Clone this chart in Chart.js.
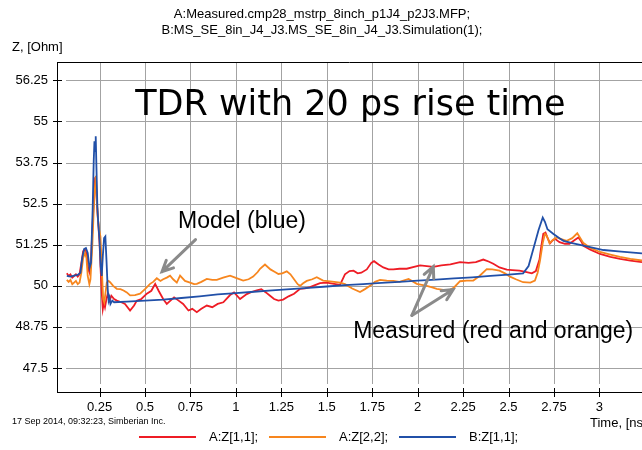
<!DOCTYPE html>
<html lang="en">
<head>
    <meta charset="UTF-8">
    <title>TDR with 20 ps rise time</title>
    <script src="https://cdn.jsdelivr.net/npm/chart.js"></script>
    <style>
        body {
            margin: 0;
            background-color: #ffffff;
            overflow: hidden;
        }
        .chart-box {
            width: 642px;
            height: 450px;
        }
    </style>
</head>
<body>
    <div class="chart-box">
        <canvas id="tdrChart" width="642" height="450"></canvas>
    </div>

    <script>
        // Axis ticks
        const xTicks = [0.25, 0.5, 0.75, 1, 1.25, 1.5, 1.75, 2, 2.25, 2.5, 2.75, 3];
        const yTicks = [47.5, 48.75, 50, 51.25, 52.5, 53.75, 55, 56.25];

        // A:Z[1,1] measured (red)
        const tRed = [0.07, 0.08, 0.09, 0.1, 0.11, 0.12, 0.13, 0.14, 0.15, 0.16, 0.17, 0.18, 0.188, 0.195, 0.203, 0.212, 0.22, 0.226, 0.232, 0.238,
            0.243, 0.25, 0.256, 0.262, 0.268, 0.274, 0.28, 0.288, 0.295, 0.305, 0.315, 0.33, 0.345, 0.37, 0.39, 0.418, 0.44, 0.455, 0.48, 0.51,
            0.535, 0.556, 0.575, 0.6, 0.62, 0.64, 0.66, 0.685, 0.71, 0.739, 0.76, 0.785, 0.81, 0.84, 0.87, 0.9, 0.931, 0.968, 0.99, 1.023,
            1.06, 1.09, 1.115, 1.14, 1.165, 1.188, 1.21, 1.234, 1.26, 1.29, 1.32, 1.353, 1.38, 1.408, 1.435, 1.463, 1.5, 1.54, 1.573, 1.6,
            1.625, 1.647, 1.67, 1.69, 1.72, 1.745, 1.76, 1.785, 1.811, 1.84, 1.866, 1.9, 1.94, 1.98, 2.013, 2.05, 2.086, 2.13, 2.18, 2.233,
            2.28, 2.32, 2.361, 2.39, 2.416, 2.45, 2.49, 2.52, 2.56, 2.6, 2.628, 2.65, 2.67, 2.68, 2.691, 2.703, 2.715, 2.728, 2.742, 2.755,
            2.78, 2.81, 2.835, 2.86, 2.884, 2.9, 2.912, 2.95, 3.003, 3.06, 3.113, 3.17, 3.234];
        const zRed = [50.38, 50.3, 50.35, 50.25, 50.3, 50.35, 50.28, 50.35, 50.7, 51.05, 51.1, 50.95, 50.5, 50.4, 50.8, 51.9, 52.8, 53.3, 52.9, 52.3,
            51.9, 51.3, 50.5, 49.8, 49.3, 49.5, 49.35, 49.6, 49.75, 49.55, 49.7, 49.6, 49.55, 49.5, 49.45, 49.25, 49.4, 49.55, 49.6, 49.76,
            49.85, 50.06, 49.85, 49.6, 49.45, 49.55, 49.65, 49.55, 49.45, 49.25, 49.3, 49.2, 49.3, 49.4, 49.35, 49.45, 49.5, 49.72, 49.8, 49.6,
            49.75, 49.82, 49.86, 49.9, 49.8, 49.7, 49.6, 49.55, 49.58, 49.68, 49.76, 49.91, 49.92, 49.96, 50.02, 50.08, 50.1, 50.06, 50.03, 50.35,
            50.45, 50.46, 50.38, 50.4, 50.5, 50.7, 50.75, 50.65, 50.56, 50.5, 50.5, 50.52, 50.52, 50.58, 50.62, 50.6, 50.58, 50.62, 50.65, 50.72,
            50.7, 50.72, 50.8, 50.74, 50.67, 50.56, 50.49, 50.48, 50.46, 50.42, 50.38, 50.45, 50.8, 51.2, 51.58, 51.62, 51.45, 51.29, 51.38, 51.43,
            51.33, 51.28, 51.28, 51.38, 51.47, 51.35, 51.22, 51.1, 50.97, 50.88, 50.82, 50.77, 50.72];

        // A:Z[2,2] measured (orange)
        const tOrange = [0.07, 0.08, 0.09, 0.1, 0.11, 0.12, 0.13, 0.14, 0.15, 0.16, 0.17, 0.178, 0.185, 0.194, 0.2, 0.21, 0.218, 0.225, 0.23, 0.235,
            0.24, 0.248, 0.255, 0.26, 0.265, 0.27, 0.276, 0.283, 0.29, 0.3, 0.308, 0.325, 0.345, 0.365, 0.382, 0.4, 0.418, 0.445, 0.473, 0.5,
            0.528, 0.545, 0.565, 0.585, 0.6, 0.62, 0.638, 0.655, 0.675, 0.693, 0.72, 0.748, 0.77, 0.785, 0.81, 0.84, 0.87, 0.895, 0.93, 0.968,
            1.0, 1.04, 1.07, 1.095, 1.12, 1.133, 1.16, 1.19, 1.215, 1.234, 1.255, 1.28, 1.3, 1.32, 1.34, 1.353, 1.37, 1.39, 1.42, 1.445,
            1.48, 1.53, 1.573, 1.6, 1.64, 1.683, 1.71, 1.738, 1.765, 1.793, 1.83, 1.866, 1.9, 1.95, 1.995, 2.05, 2.08, 2.105, 2.14, 2.178,
            2.2, 2.233, 2.27, 2.306, 2.34, 2.38, 2.41, 2.45, 2.48, 2.508, 2.54, 2.58, 2.62, 2.645, 2.66, 2.673, 2.688, 2.7, 2.712, 2.725,
            2.745, 2.765, 2.79, 2.82, 2.85, 2.878, 2.895, 2.912, 2.95, 3.003, 3.06, 3.113, 3.17, 3.234];
        const zOrange = [50.18, 50.12, 50.18, 50.05, 50.1, 50.15, 50.05, 50.1, 50.4, 50.85, 51.0, 50.85, 50.3, 50.05, 50.2, 51.2, 52.3, 53.0, 53.35, 52.7,
            52.1, 51.7, 51.5, 50.9, 50.2, 49.6, 49.5, 49.8, 50.1, 50.15, 50.11, 50.0, 49.91, 49.9, 49.86, 49.8, 49.71, 49.72, 49.76, 49.9,
            50.06, 50.12, 50.23, 50.15, 50.2, 50.25, 50.31, 50.2, 50.1, 50.31, 50.15, 50.1, 50.05, 50.06, 50.12, 50.21, 50.18, 50.18, 50.25, 50.31,
            50.24, 50.16, 50.2, 50.28, 50.42, 50.52, 50.65, 50.5, 50.42, 50.36, 50.38, 50.44, 50.35, 50.2, 50.05, 50.0, 50.08, 50.15, 50.2, 50.26,
            50.16, 50.13, 50.1, 50.05, 49.92, 49.81, 49.9, 50.0, 50.12, 50.18, 50.16, 50.15, 50.12, 50.21, 50.06, 50.0, 49.95, 49.91, 49.88, 49.88,
            49.95, 50.14, 50.16, 50.16, 50.3, 50.51, 50.5, 50.46, 50.38, 50.28, 50.2, 50.11, 50.1, 50.16, 50.4, 50.77, 51.3, 51.58, 51.5, 51.3,
            51.4, 51.47, 51.42, 51.37, 51.45, 51.6, 51.45, 51.3, 51.15, 51.03, 50.95, 50.88, 50.82, 50.77];

        // B:Z[1,1] simulation (blue)
        const tBlue = [0.07, 0.09, 0.11, 0.13, 0.145, 0.155, 0.165, 0.175, 0.185, 0.195, 0.203, 0.212, 0.218, 0.222, 0.226, 0.229, 0.233, 0.238, 0.243, 0.25,
            0.256, 0.262, 0.268, 0.275, 0.282, 0.288, 0.295, 0.3, 0.305, 0.31, 0.32, 0.33, 0.4, 0.5, 0.6, 0.7, 0.8, 0.9, 1.0, 1.1,
            1.2, 1.3, 1.4, 1.5, 1.6, 1.7, 1.8, 1.9, 2.0, 2.1, 2.2, 2.3, 2.4, 2.5, 2.58, 2.61, 2.635, 2.665, 2.688, 2.7,
            2.714, 2.747, 2.78, 2.802, 2.85, 2.912, 3.022, 3.12, 3.234];
        const zBlue = [50.3, 50.28, 50.31, 50.33, 50.4, 50.85, 51.12, 51.15, 51.0, 50.55, 50.7, 52.3, 53.8, 54.4, 54.1, 54.55, 53.6, 52.4, 51.9, 51.4,
            50.6, 50.3, 50.9, 51.45, 51.5, 50.8, 49.9, 49.55, 49.65, 49.45, 49.55, 49.5, 49.52, 49.55, 49.58, 49.63, 49.68, 49.74, 49.78, 49.82,
            49.86, 49.9, 49.94, 49.98, 50.02, 50.05, 50.09, 50.12, 50.16, 50.19, 50.23, 50.26, 50.3, 50.34, 50.38, 50.6, 51.1, 51.7, 52.08, 51.95,
            51.72, 51.58, 51.45, 51.37, 51.3, 51.22, 51.09, 51.04, 50.99];

        const RED = '#ee1c25';
        const ORANGE = '#f7861e';
        const BLUE = '#2150a8';
        const GRID = '#a3a3a3';
        const FONT = "'Liberation Sans', Arial, sans-serif";

        function toPoints(ts, zs) {
            return ts.map((t, i) => ({ x: t, y: zs[i] }));
        }

        // Grid lines stop short of the axes, tick marks cross them
        const gridPlugin = {
            id: 'simGrid',
            beforeDatasetsDraw(chart) {
                const ctx = chart.ctx;
                const area = chart.chartArea;
                ctx.save();
                ctx.lineWidth = 1;
                chart.scales.x.ticks.forEach(tk => {
                    const x = Math.round(chart.scales.x.getPixelForValue(tk.value)) + 0.5;
                    ctx.strokeStyle = GRID;
                    ctx.beginPath();
                    ctx.moveTo(x, area.top);
                    ctx.lineTo(x, area.bottom - 8);
                    ctx.stroke();
                    ctx.strokeStyle = '#000';
                    ctx.beginPath();
                    ctx.moveTo(x, area.bottom - 4);
                    ctx.lineTo(x, area.bottom + 5);
                    ctx.stroke();
                });
                chart.scales.y.ticks.forEach(tk => {
                    const y = Math.round(chart.scales.y.getPixelForValue(tk.value)) + 0.5;
                    ctx.strokeStyle = GRID;
                    ctx.beginPath();
                    ctx.moveTo(area.left + 9, y);
                    ctx.lineTo(area.right, y);
                    ctx.stroke();
                    ctx.strokeStyle = '#000';
                    ctx.beginPath();
                    ctx.moveTo(area.left - 4, y);
                    ctx.lineTo(area.left + 5, y);
                    ctx.stroke();
                });
                ctx.restore();
            }
        };

        // Titles, legend and the notes on the plot
        const decorPlugin = {
            id: 'decor',
            afterDraw(chart) {
                const ctx = chart.ctx;
                const area = chart.chartArea;
                const xs = chart.scales.x;
                const ys = chart.scales.y;
                ctx.save();

                // top frame line
                ctx.strokeStyle = '#000';
                ctx.lineWidth = 1;
                ctx.beginPath();
                ctx.moveTo(area.left, area.top + 0.5);
                ctx.lineTo(area.right, area.top + 0.5);
                ctx.stroke();

                ctx.fillStyle = '#000';
                ctx.textBaseline = 'middle';
                ctx.font = '13px ' + FONT;
                ctx.textAlign = 'center';
                ctx.fillText('A:Measured.cmp28_mstrp_8inch_p1J4_p2J3.MFP;', 322, 14);
                ctx.fillText('B:MS_SE_8in_J4_J3.MS_SE_8in_J4_J3.Simulation(1);', 322, 30);

                ctx.textAlign = 'left';
                ctx.fillText('Z, [Ohm]', 12, 47);
                ctx.fillText('Time, [ns]', 590, 423);
                ctx.font = '9px ' + FONT;
                ctx.fillText('17 Sep 2014, 09:32:23, Simberian Inc.', 12, 422);

                // legend
                let lx = 139;
                ctx.font = '13px ' + FONT;
                chart.data.datasets.forEach(ds => {
                    ctx.strokeStyle = ds.borderColor;
                    ctx.lineWidth = 2;
                    ctx.beginPath();
                    ctx.moveTo(lx, 437);
                    ctx.lineTo(lx + 57, 437);
                    ctx.stroke();
                    ctx.fillText(ds.label, lx + 70, 437);
                    lx += 130;
                });

                // annotations
                ctx.font = "35px 'DejaVu Sans', sans-serif";
                ctx.textBaseline = 'alphabetic';
                ctx.fillText('TDR with 20 ps rise time', xs.getPixelForValue(0.446), ys.getPixelForValue(55.2));
                ctx.font = '23px ' + FONT;
                ctx.fillText('Model (blue)', xs.getPixelForValue(0.682), ys.getPixelForValue(51.763));
                ctx.fillText('Measured (red and orange)', xs.getPixelForValue(1.645), ys.getPixelForValue(48.40));

                function arrow(t0, z0, t1, z1) {
                    const x0 = xs.getPixelForValue(t0), y0 = ys.getPixelForValue(z0);
                    const x1 = xs.getPixelForValue(t1), y1 = ys.getPixelForValue(z1);
                    const a = Math.atan2(y1 - y0, x1 - x0);
                    ctx.strokeStyle = '#8a8a8a';
                    ctx.lineWidth = 3;
                    ctx.lineCap = 'round';
                    ctx.beginPath();
                    ctx.moveTo(x0, y0);
                    ctx.lineTo(x1, y1);
                    ctx.moveTo(x1 - 12 * Math.cos(a - 0.45), y1 - 12 * Math.sin(a - 0.45));
                    ctx.lineTo(x1, y1);
                    ctx.lineTo(x1 - 12 * Math.cos(a + 0.45), y1 - 12 * Math.sin(a + 0.45));
                    ctx.stroke();
                }
                arrow(0.778, 51.405, 0.594, 50.434);
                arrow(1.968, 49.10, 2.086, 50.586);
                arrow(1.968, 49.10, 2.195, 49.888);

                ctx.restore();
            }
        };

        const tickFormat = v => String(Number(v.toFixed(2)));

        new Chart(document.getElementById('tdrChart'), {
            type: 'line',
            data: {
                datasets: [
                    { label: 'A:Z[1,1];', data: toPoints(tRed, zRed), borderColor: RED, order: 2 },
                    { label: 'A:Z[2,2];', data: toPoints(tOrange, zOrange), borderColor: ORANGE, order: 1 },
                    { label: 'B:Z[1,1];', data: toPoints(tBlue, zBlue), borderColor: BLUE, order: 0 }
                ]
            },
            options: {
                responsive: false,
                animation: false,
                elements: {
                    line: { borderWidth: 1.8, tension: 0, fill: false },
                    point: { radius: 0 }
                },
                layout: { padding: { top: 62, left: 0, right: 0, bottom: 0 } },
                plugins: {
                    legend: { display: false },
                    title: { display: false },
                    tooltip: { enabled: false }
                },
                scales: {
                    x: {
                        type: 'linear',
                        min: 0.016,
                        max: 3.234,
                        afterBuildTicks: s => { s.ticks = xTicks.map(v => ({ value: v })); },
                        afterFit: s => { s.height = 58; },
                        grid: { color: 'rgba(0,0,0,0)', tickColor: 'rgba(0,0,0,0)', tickLength: 5 },
                        border: { color: '#000' },
                        ticks: { color: '#000', font: { family: FONT, size: 13 }, padding: 3, maxRotation: 0, callback: tickFormat }
                    },
                    y: {
                        min: 46.77,
                        max: 56.81,
                        afterBuildTicks: s => { s.ticks = yTicks.map(v => ({ value: v })); },
                        afterFit: s => { s.width = 57; },
                        grid: { color: 'rgba(0,0,0,0)', tickColor: 'rgba(0,0,0,0)', tickLength: 5 },
                        border: { color: '#000' },
                        ticks: { color: '#000', font: { family: FONT, size: 13 }, padding: 4, callback: tickFormat }
                    }
                }
            },
            plugins: [gridPlugin, decorPlugin]
        });
    </script>
</body>
</html>
